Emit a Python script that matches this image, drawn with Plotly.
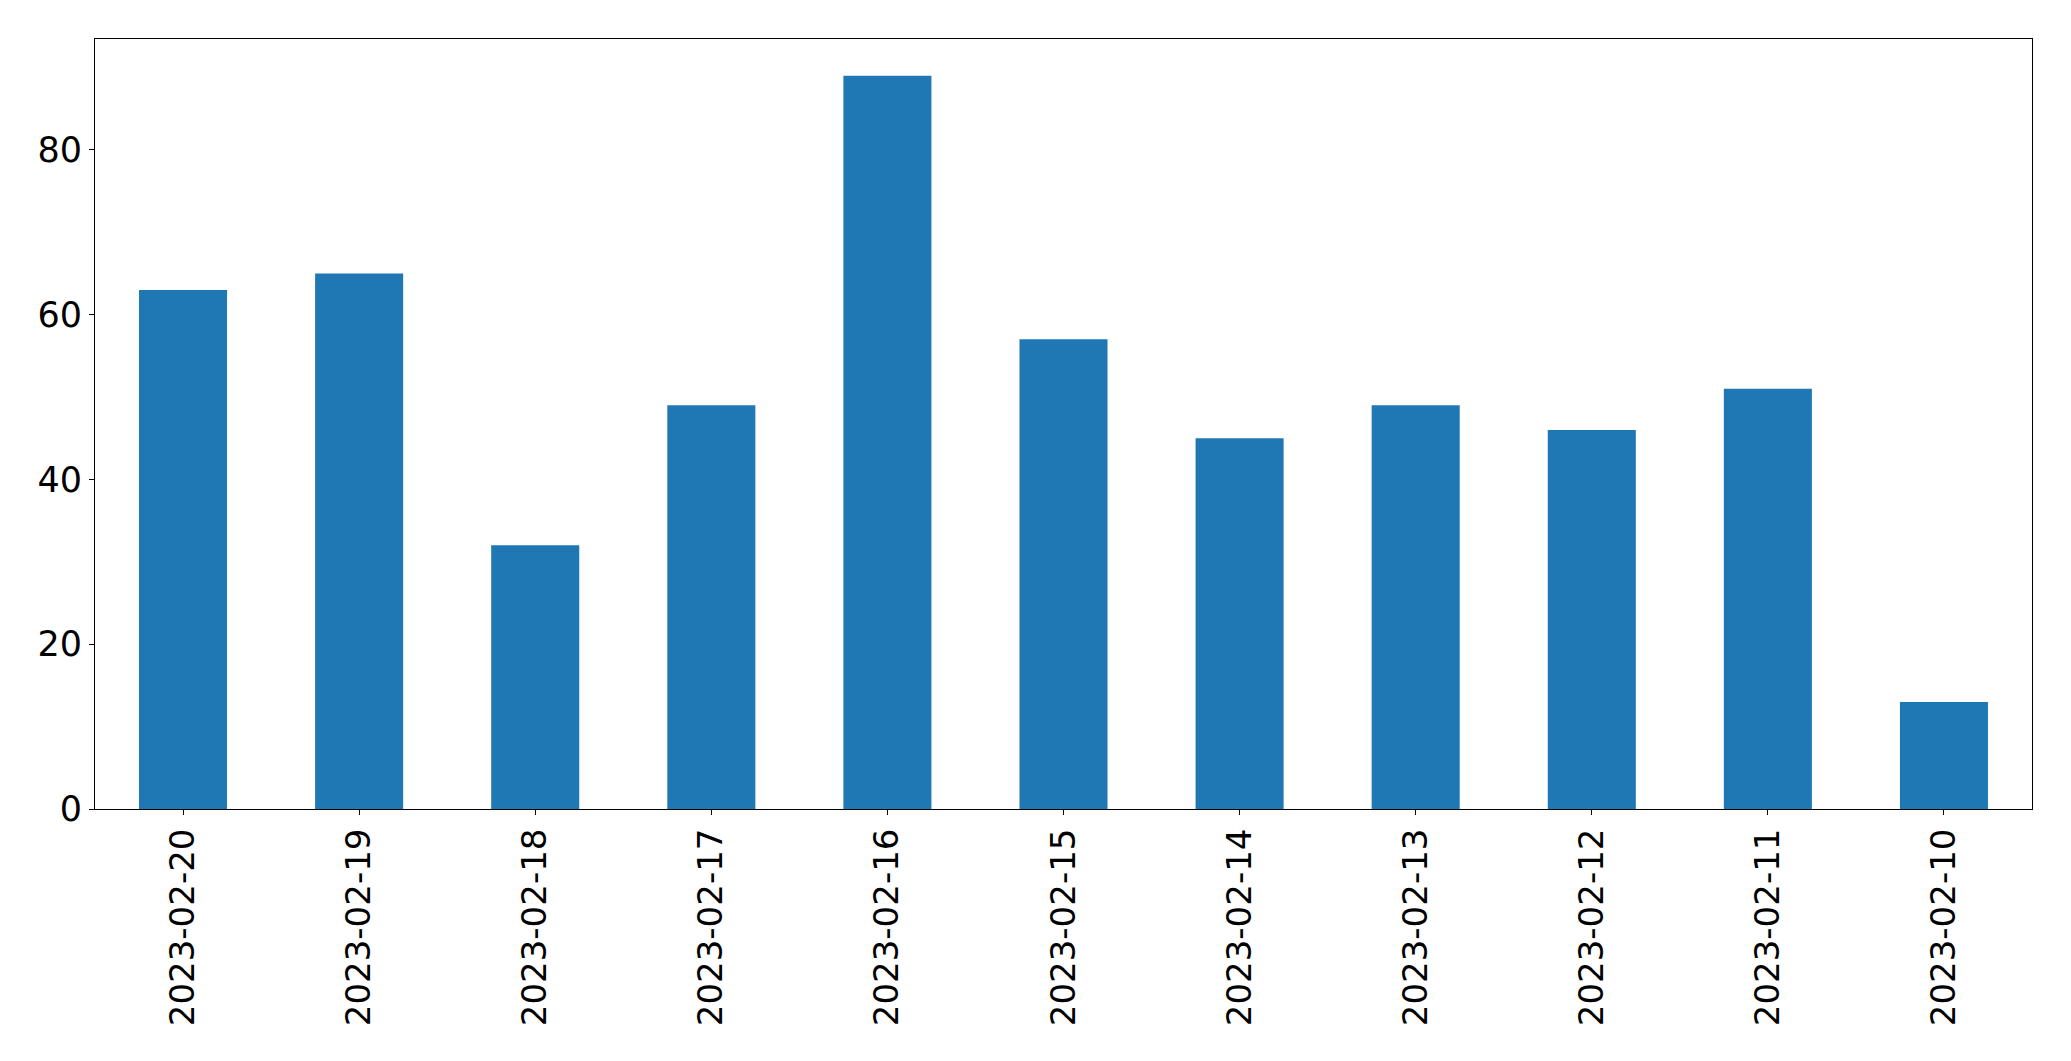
import plotly.graph_objects as go

dates = ["2023-02-20", "2023-02-19", "2023-02-18", "2023-02-17", "2023-02-16",
         "2023-02-15", "2023-02-14", "2023-02-13", "2023-02-12", "2023-02-11",
         "2023-02-10"]
counts = [63, 65, 32, 49, 89, 57, 45, 49, 46, 51, 13]
y_ticks = [0, 20, 40, 60, 80]

fig = go.Figure(go.Bar(x=dates, y=counts, marker=dict(color="#1f77b4", line=dict(width=0)),
                       width=0.5))

# page body has an 8px default margin
OFF = 8
W, H = 2071 - 2 * OFF, 1061 - 2 * OFF
L, R, T, B = 94.7 - OFF, 2031.7 - OFF, 39.3 - OFF, 809 - OFF

font = dict(family="DejaVu Sans", size=34, color="black")
yfont = dict(family="DejaVu Sans", size=35, color="black")
fig.update_layout(
    width=W, height=H,
    margin=dict(l=L, r=W - R, t=T, b=H - B, pad=0, autoexpand=False),
    plot_bgcolor="white", paper_bgcolor="white",
    showlegend=False,
    font=font,
)
fig.update_xaxes(
    type="category", range=[-0.5, len(dates) - 0.5], autorange=False,
    tickangle=-90, ticks="outside", ticklen=5, tickwidth=1, tickcolor="black",
    showline=True, linecolor="black", linewidth=1, mirror=True,
    showgrid=False, zeroline=False, tickfont=font, ticklabelstandoff=0,
)
fig.update_yaxes(
    range=[0, max(counts) * 1.05], autorange=False,
    tickvals=y_ticks, ticks="outside", ticklen=5, tickwidth=1, tickcolor="black",
    showline=True, linecolor="black", linewidth=1, mirror=True,
    showgrid=False, zeroline=False, tickfont=yfont, ticklabelstandoff=0,
)

fig.write_html("out.html")
